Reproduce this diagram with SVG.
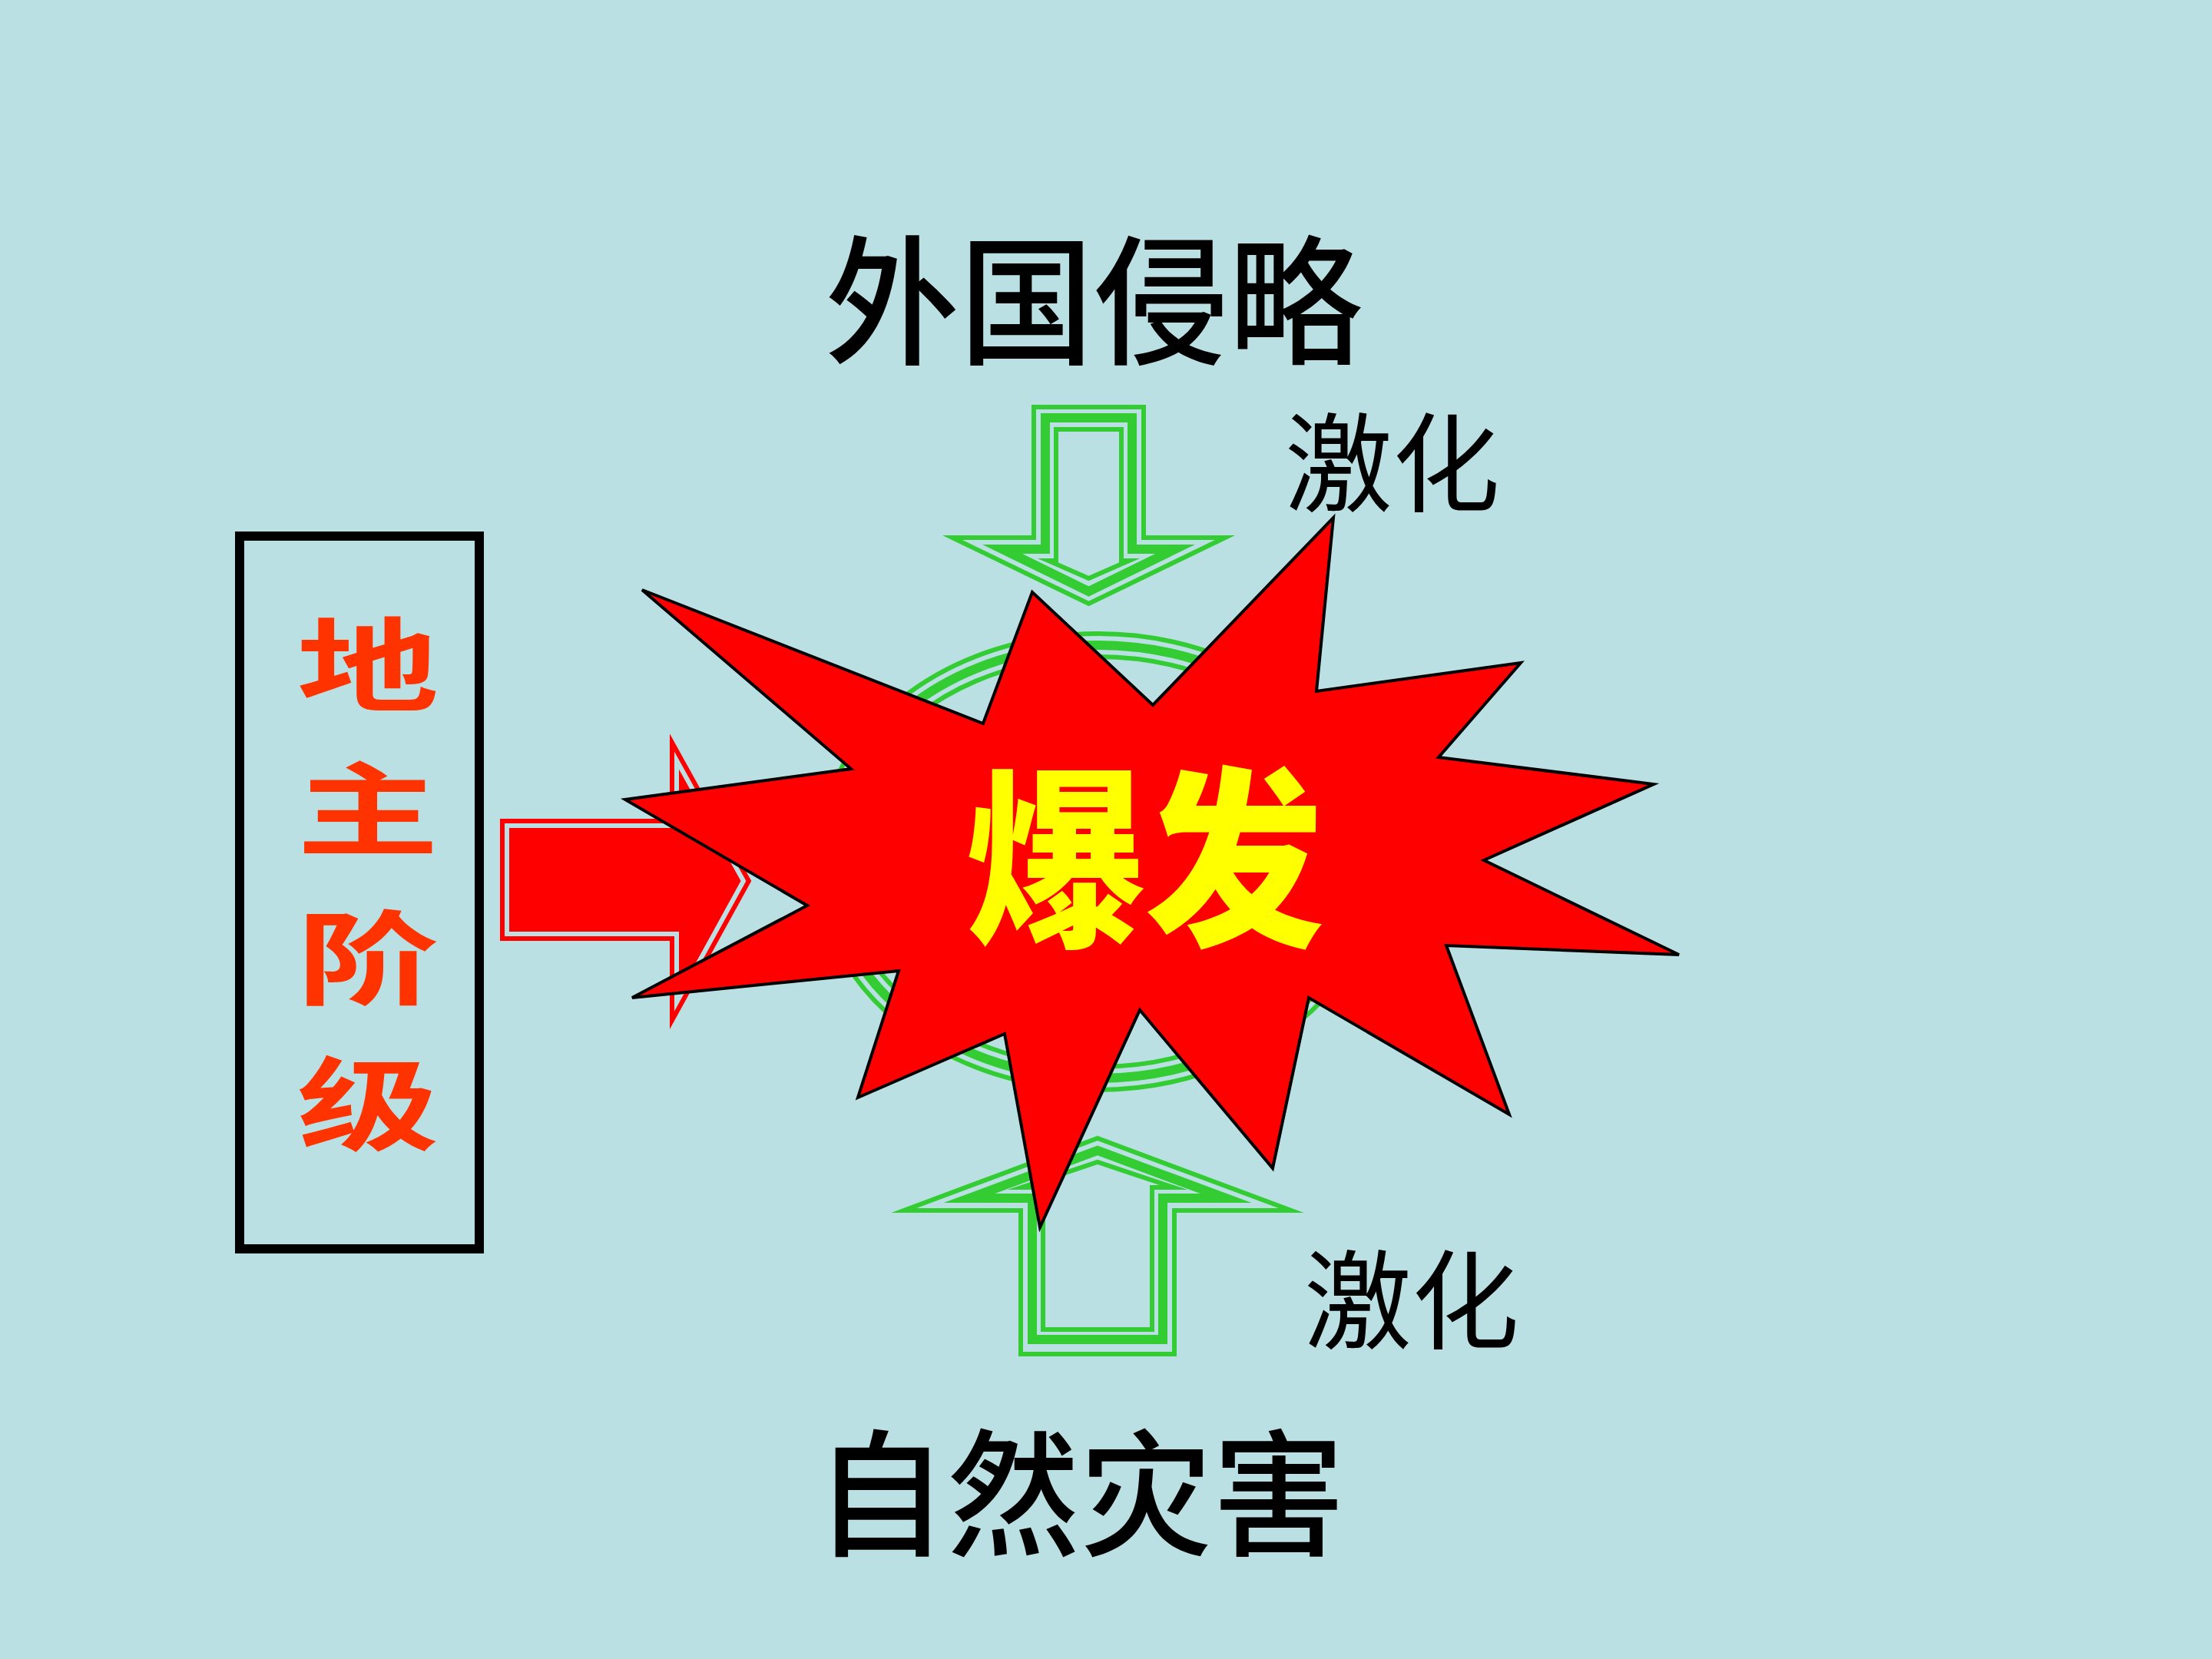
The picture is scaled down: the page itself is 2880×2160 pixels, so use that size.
<svg xmlns="http://www.w3.org/2000/svg" width="2880" height="2160" viewBox="0 0 2880 2160">
<style>
.g6{fill:none;stroke:#33CC33;stroke-width:6;stroke-linejoin:miter;stroke-miterlimit:12}
.g12{fill:none;stroke:#33CC33;stroke-width:12;stroke-linejoin:miter;stroke-miterlimit:12}
.cjk{font-family:"Noto Sans CJK SC","Noto Sans CJK TC",sans-serif}
.blk{fill:#000000;text-anchor:middle}
.lbl{fill:#FF3300;text-anchor:middle;font-weight:700}
</style>
<rect x="0" y="0" width="2880" height="2160" fill="#BBE0E3"/>

<g id="title-top">
<text class="cjk blk" x="1424" y="460" font-size="182" font-weight="500" textLength="700" lengthAdjust="spacingAndGlyphs">外国侵略</text>
</g>
<g id="title-bottom">
<text class="cjk blk" x="1406" y="2012" font-size="178" font-weight="500" textLength="690" lengthAdjust="spacingAndGlyphs">自然灾害</text>
</g>

<g id="ring">
<ellipse class="g6" cx="1430" cy="1122" rx="367" ry="297"/>
<ellipse class="g12" cx="1430" cy="1122" rx="352" ry="282"/>
<ellipse class="g6" cx="1430" cy="1122" rx="337" ry="267"/>
</g>

<g id="connectors">
<g id="arrow-down">
<path class="g6" d="M1346,530 L1489,530 L1489,700 L1595,700 L1417.5,786 L1240,700 L1346,700 Z"/>
<path class="g12" d="M1361,544 L1474,544 L1474,715 L1530,715 L1417.5,770 L1305,715 L1361,715 Z"/>
<path class="g6" d="M1375,559 L1460,559 L1460,730 L1470,730 L1417.5,753 L1365,730 L1375,730 Z"/>
</g>
<g id="arrow-up">
<path class="g6" d="M1329,1763 L1329,1576 L1177,1576 L1429,1482 L1681,1576 L1529,1576 L1529,1763 Z"/>
<path class="g12" d="M1344,1744 L1344,1560 L1262,1560 L1429,1498 L1596,1560 L1514,1560 L1514,1744 Z"/>
<path class="g6" d="M1358,1731 L1358,1546 L1330,1546 L1429,1513 L1528,1546 L1500,1546 L1500,1731 Z"/>
</g>
<g id="arrow-right">
<path d="M660,1075 L881,1075 L881,990 L968,1147 L881,1305 L881,1216 L660,1216 Z" fill="#FF0000" stroke="#FF0000" stroke-width="18" stroke-linejoin="miter" stroke-miterlimit="10"/>
<path d="M660,1075 L881,1075 L881,990 L968,1147 L881,1305 L881,1216 L660,1216 Z" fill="none" stroke="#BBE0E3" stroke-width="6" stroke-linejoin="miter" stroke-miterlimit="10"/>
</g>
</g>

<g id="label-top">
<text class="cjk blk" x="1813" y="655" font-size="140">激化</text>
</g>
<g id="label-bottom">
<text class="cjk blk" x="1838" y="1745" font-size="140">激化</text>
</g>

<g id="landlord-box">
<rect x="312" y="698" width="312" height="928" fill="none" stroke="#000000" stroke-width="12"/>
<text class="cjk lbl" font-size="132" transform="translate(479,915) scale(1.4,1)" x="0" y="0">地</text>
<text class="cjk lbl" font-size="132" transform="translate(479,1103) scale(1.4,1)" x="0" y="0">主</text>
<text class="cjk lbl" font-size="132" transform="translate(479,1297) scale(1.4,1)" x="0" y="0">阶</text>
<text class="cjk lbl" font-size="132" transform="translate(479,1487) scale(1.4,1)" x="0" y="0">级</text>
</g>

<g id="burst">
<polygon points="836,768 1280,942 1344,771 1501,918 1736,674 1714,900 1980,863 1873,986 2153,1021 1932,1120 2186,1243 1883,1231 1965,1451 1704,1299 1657,1521 1484,1315 1354,1598 1308,1346 1117,1429 1170,1264 823,1299 1051,1179 814,1041 1108,1001" fill="#FF0000" stroke="#000000" stroke-width="4" stroke-linejoin="miter"/>
<text class="cjk" x="1491" y="1212" font-size="250" font-weight="900" fill="#FFFF00" text-anchor="middle" textLength="466" lengthAdjust="spacingAndGlyphs">爆发</text>
</g>
</svg>
